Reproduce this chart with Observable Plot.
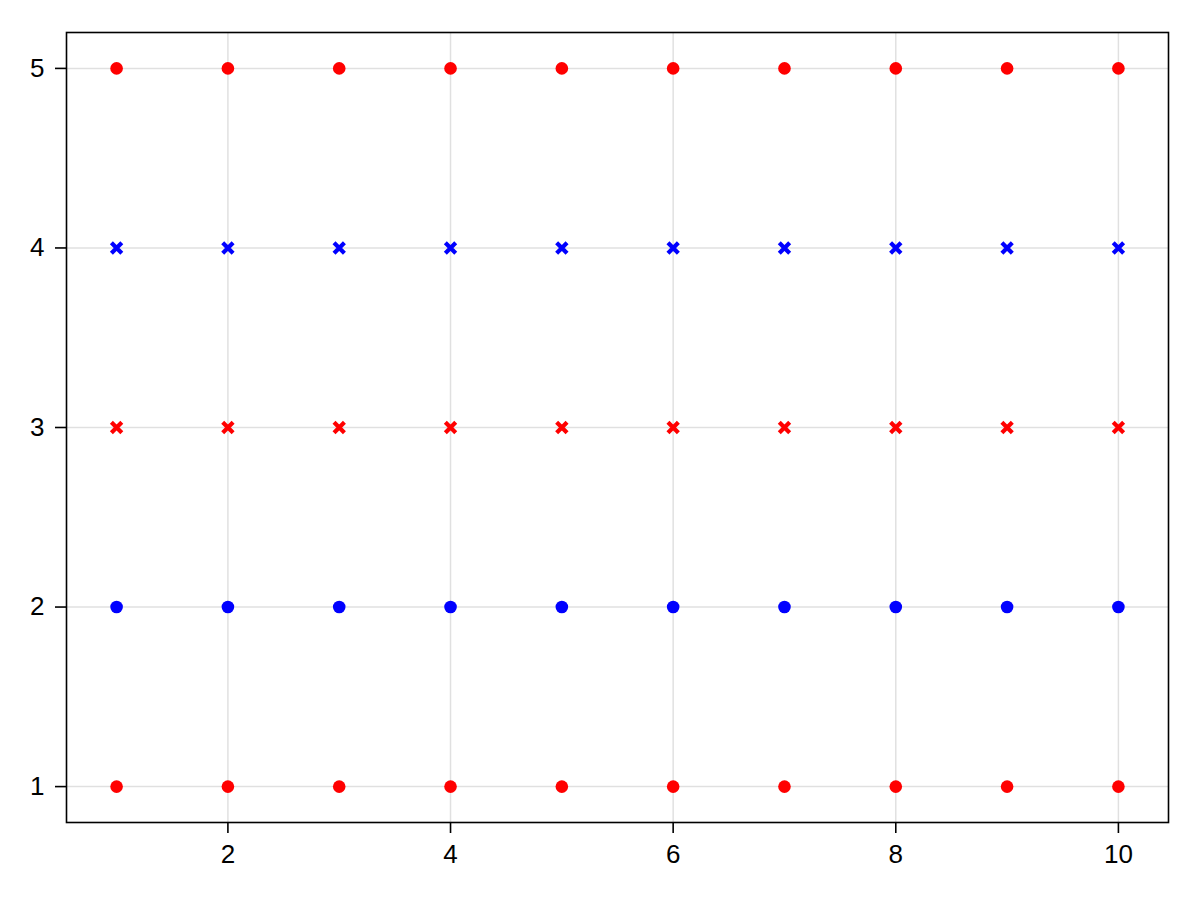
<!DOCTYPE html>
<html>
<head>
<meta charset="utf-8">
<script src="https://cdn.jsdelivr.net/npm/d3@7"></script>
<script src="https://cdn.jsdelivr.net/npm/@observablehq/plot@0.6"></script>
<style>
  html, body { margin: 0; padding: 0; background: #fff; }
</style>
</head>
<body>
<div id="chart"></div>
<script>
const xs = [1, 2, 3, 4, 5, 6, 7, 8, 9, 10];
const rowY = [5, 4, 3, 2, 1];
const rowColor = ["red", "blue", "red", "blue", "red"];
const rowMarker = ["circle", "cross", "cross", "circle", "circle"];
const xTicks = [2, 4, 6, 8, 10];
const yTicks = [1, 2, 3, 4, 5];

const data = [];
rowY.forEach((y, i) => xs.forEach(x => data.push({x, y, color: rowColor[i], marker: rowMarker[i]})));
const circles = data.filter(d => d.marker === "circle");
const crosses = data.filter(d => d.marker === "cross");

const chart = Plot.plot({
  width: 1200,
  height: 900,
  marginLeft: 66,
  marginRight: 32,
  marginTop: 32,
  marginBottom: 78,
  style: {fontFamily: "'Liberation Sans', Arial, sans-serif", fontSize: "26px", color: "#000", background: "#fff"},
  x: {domain: [0.55, 10.45], ticks: xTicks},
  y: {domain: [0.8, 5.2], ticks: yTicks},
  marks: [
    Plot.gridX(xTicks, {stroke: "#000", strokeOpacity: 0.12, strokeWidth: 1.5}),
    Plot.gridY(yTicks, {stroke: "#000", strokeOpacity: 0.12, strokeWidth: 1.5}),
    Plot.dot(circles, {x: "x", y: "y", fill: d => d.color, r: 6.3, stroke: null}),
    Plot.dot(crosses, {x: "x", y: "y", stroke: d => d.color, symbol: "times", r: 4.8, strokeWidth: 4.2}),
    Plot.frame({stroke: "#000", strokeWidth: 1.6}),
    Plot.axisX(xTicks, {tickSize: 11, tickPadding: 11, stroke: "#000", strokeWidth: 1.6, strokeOpacity: 1, label: null, tickFormat: d3.format("d")}),
    Plot.axisY(yTicks, {tickSize: 11, tickPadding: 11, stroke: "#000", strokeWidth: 1.6, strokeOpacity: 1, label: null, tickFormat: d3.format("d")})
  ],
  color: {type: "identity"}
});
document.getElementById("chart").appendChild(chart);
</script>
</body>
</html>
